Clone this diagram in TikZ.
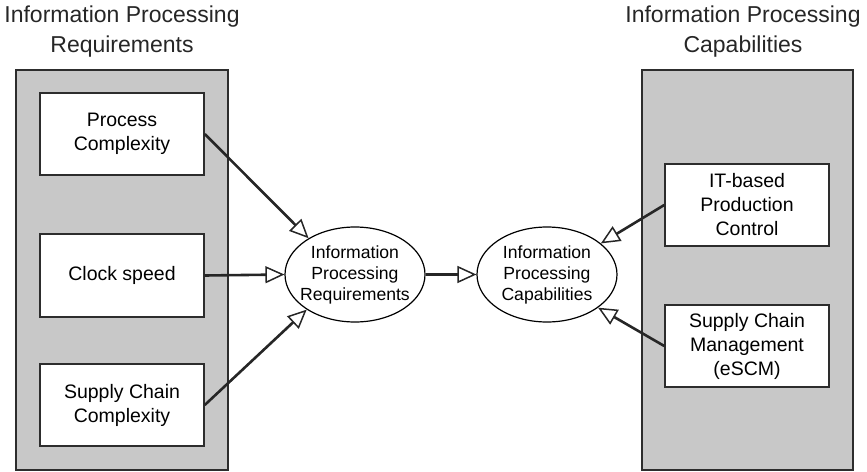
\documentclass[tikz,border=0pt]{standalone}
\usepackage{fontspec}
\setmainfont{Liberation Sans}
\usetikzlibrary{arrows.meta,shapes.geometric}
\definecolor{panelgray}{RGB}{200,200,200}
\definecolor{edgegray}{RGB}{45,45,45}
\tikzset{
  panel/.style={draw=edgegray, line width=1.5pt, fill=panelgray},
  factor/.style={draw=edgegray, line width=1.5pt, fill=white, minimum width=164pt, inner sep=0pt, align=center, font=\fontsize{19.5}{24}\selectfont},
  construct/.style={ellipse, draw=black, line width=1.2pt, fill=white, minimum width=140pt, minimum height=95pt, inner sep=0pt},
  constructtext/.style={align=center, inner sep=0pt, font=\fontsize{17.6}{21}\selectfont},
  title/.style={align=center, font=\fontsize{23}{30}\selectfont, text=black!85},
  link/.style={line width=2.6pt, draw=black!85, -{Triangle[open, length=19pt, width=17pt, line width=1.5pt]}, shorten >=0pt}
}
\begin{document}
\begin{tikzpicture}[x=1pt, y=-1pt]
\useasboundingbox (0,0) rectangle (867,471);
% panels
\draw[panel] (16,70) rectangle (228,470);
\draw[panel] (642,70) rectangle (853,470);
% titles
\node[title] (tl) at (122,32) {Information Processing\\Requirements};
\node[title] (tr) at (743,32) {Information Processing\\Capabilities};
% left factors
\node[factor, minimum height=82pt] (pc) at (122,134) {Process\\Complexity};
\node[factor, minimum height=83pt] (cs) at (122,275.5) {Clock speed};
\node[factor, minimum height=82pt] (sc) at (122,405) {Supply Chain\\Complexity};
% right factors
\node[factor, minimum height=82pt] (it) at (747,205) {IT-based\\Production\\Control};
\node[factor, minimum height=82pt] (scm) at (747,346) {Supply Chain\\Management\\(eSCM)};
% constructs
\node[construct] (ipr) at (355,274.5) {};
\node[constructtext] (iprt) at (ipr.center) {Information\\Processing\\Requirements};
\node[construct] (ipc) at (547,274.5) {};
\node[constructtext] (ipct) at (ipc.center) {Information\\Processing\\Capabilities};
% connectors
\draw[link] (pc.east) -- (ipr.142);
\draw[link] (cs.east) -- (ipr.west);
\draw[link] (sc.east) -- (ipr.216);
\draw[link] (ipr.east) -- (ipc.west);
\draw[link] (it.west) -- (ipc.30);
\draw[link] (scm.west) -- (ipc.-33);
\end{tikzpicture}
\end{document}
